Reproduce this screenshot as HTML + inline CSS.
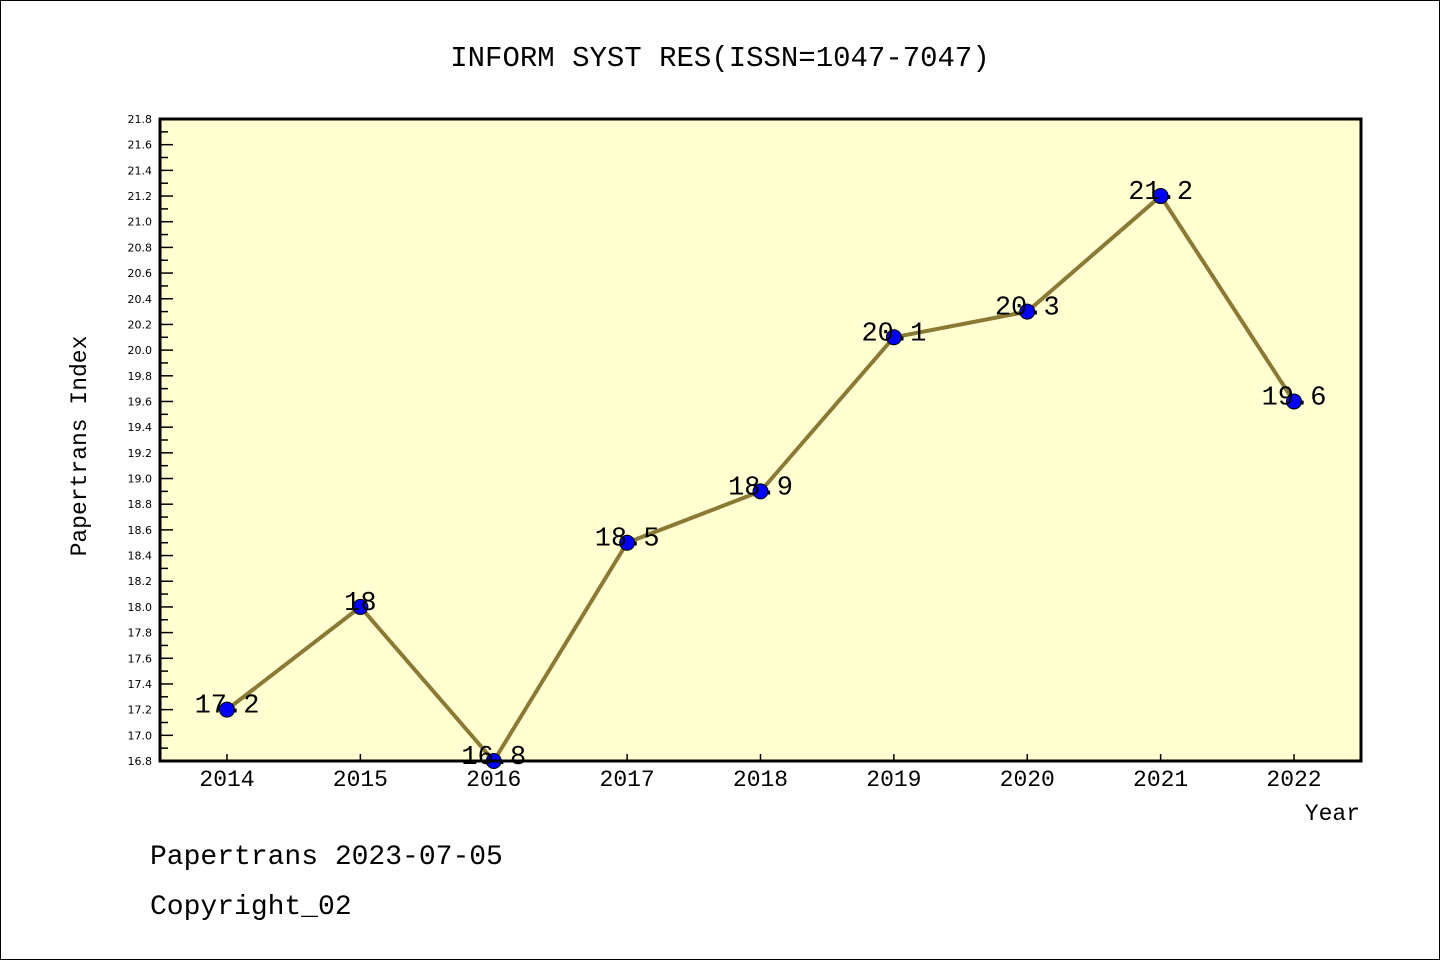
<!DOCTYPE html>
<html><head><meta charset="utf-8"><style>
body{margin:0;background:#fff}
svg text{font-family:"Liberation Mono","DejaVu Sans Mono",monospace}
</style></head><body>
<svg id="c" width="1440" height="960" xmlns="http://www.w3.org/2000/svg">
<rect x="0.5" y="0.5" width="1439" height="959" fill="#fff" stroke="#000"/>
<text x="720" y="66" font-size="29" text-anchor="middle">INFORM SYST RES(ISSN=1047-7047)</text>
<rect x="160" y="119" width="1201" height="642" fill="#ffffd2"/>
<g id="yax"></g>
<g id="xax"></g>
<g id="marks"></g>
<rect x="160" y="119" width="1201" height="642" fill="none" stroke="#000" stroke-width="3"/>
<text x="86" y="446" font-size="23" text-anchor="middle" transform="rotate(-90 86 446)">Papertrans Index</text>
<text x="1360" y="820" font-size="23" text-anchor="end">Year</text>
<text x="150" y="864" font-size="28">Papertrans 2023-07-05</text>
<text x="150" y="914" font-size="28">Copyright_02</text>
</svg>
<script>
const years=["2014","2015","2016","2017","2018","2019","2020","2021","2022"];
const values=[17.2,18,16.8,18.5,18.9,20.1,20.3,21.2,19.6];
const labels=["17.2","18","16.8","18.5","18.9","20.1","20.3","21.2","19.6"];
const yMin=16.8,yMax=21.8;
const NS="http://www.w3.org/2000/svg";
const px0=160,px1=1361,py0=761,py1=119;
function X(i){return 227+i*(1294-227)/8;}
function Y(v){return py0-(v-yMin)/(yMax-yMin)*(py0-py1);}
function mk(t,a,p){const e=document.createElementNS(NS,t);for(const k in a)e.setAttribute(k,a[k]);p.appendChild(e);return e;}
const ya=document.getElementById('yax'),xa=document.getElementById('xax'),m=document.getElementById('marks');
for(let k=0;k<=50;k++){const v=yMin+k*0.1,y=Y(v),maj=k%2==0;
 const l=mk('line',{x1:px0,x2:px0+(maj?13:8),y1:y,y2:y,stroke:'#000','stroke-width':1.5},ya);
 
 if(maj){const t=mk('text',{x:152,y:y+4,'font-size':11,'text-anchor':'end',style:'font-family:"DejaVu Sans",sans-serif'},ya);t.textContent=v.toFixed(1);
 }}
years.forEach((yr,i)=>{const x=X(i);
 const l=mk('line',{x1:x,x2:x,y1:py0,y2:py0-7,stroke:'#000','stroke-width':1.5},xa);
 
 const t=mk('text',{x:x,y:786,'font-size':23,'text-anchor':'middle'},xa);t.textContent=yr;
 });
const pl=mk('polyline',{points:values.map((v,i)=>X(i)+','+Y(v)).join(' '),fill:'none',stroke:'#8b7a35','stroke-width':4},m);

values.forEach((v,i)=>{const c=mk('circle',{cx:X(i),cy:Y(v),r:7.5,fill:'#0000ff',stroke:'#000','stroke-width':1},m);
 
 const t=mk('text',{x:X(i),y:Y(v)+3,'font-size':27,'text-anchor':'middle'},m);t.textContent=labels[i];
 });
</script>
</body></html>
